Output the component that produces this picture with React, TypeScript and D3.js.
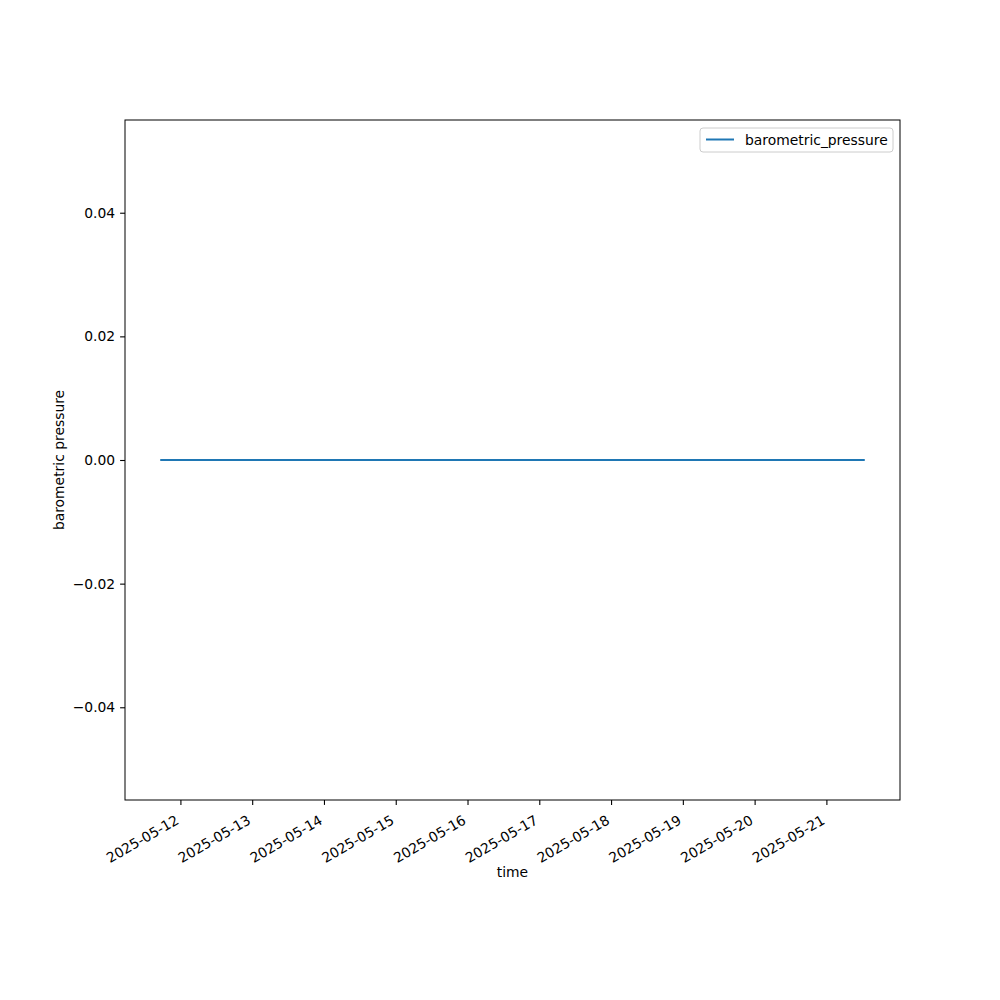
import React, { useRef, useEffect } from 'react';
import * as d3 from 'd3';

// readings (all zero in the source)
const times: string[] = [
    '2025-05-11T17:15:00',
    '2025-05-12T17:15:00',
    '2025-05-13T17:15:00',
    '2025-05-14T17:15:00',
    '2025-05-15T17:15:00',
    '2025-05-16T17:15:00',
    '2025-05-17T17:15:00',
    '2025-05-18T17:15:00',
    '2025-05-19T17:15:00',
    '2025-05-20T17:15:00',
    '2025-05-21T12:50:00',
];
const pressure: number[] = [0, 0, 0, 0, 0, 0, 0, 0, 0, 0, 0];
const yTicks: number[] = [-0.04, -0.02, 0, 0.02, 0.04];
const xTickDays: string[] = [
    '2025-05-12', '2025-05-13', '2025-05-14', '2025-05-15', '2025-05-16',
    '2025-05-17', '2025-05-18', '2025-05-19', '2025-05-20', '2025-05-21',
];
const seriesName = 'barometric_pressure';

const FONT = 'DejaVu Sans, sans-serif';
const FS = 13.89;

const drawChart = (svgEl: SVGSVGElement) => {
    const svg = d3.select(svgEl);
    svg.selectAll('*').remove();

    const margin = { top: 120, right: 100, bottom: 200, left: 125 };
    const width = 1000 - margin.left - margin.right;
    const height = 1000 - margin.top - margin.bottom;

    const data = times.map((t, i) => ({ t: new Date(t), v: pressure[i] }));

    // matplotlib-like 5% margins
    const [t0, t1] = d3.extent(data, d => d.t.getTime()) as [number, number];
    const pad = (t1 - t0) * 0.05;
    const x = d3.scaleTime()
        .domain([new Date(t0 - pad), new Date(t1 + pad)])
        .range([0, width]);

    const y = d3.scaleLinear()
        .domain([-0.055, 0.055])
        .range([height, 0]);

    const g = svg.append('g')
        .attr('transform', `translate(${margin.left},${margin.top})`);

    // line
    const line = d3.line<{ t: Date; v: number }>()
        .x(d => x(d.t))
        .y(d => y(d.v));
    g.append('path')
        .datum(data)
        .attr('fill', 'none')
        .attr('stroke', '#1f77b4')
        .attr('stroke-width', 2)
        .attr('d', line);

    // y axis
    const fmtY = (d: number) => (d < 0 ? '\u2212' : '') + Math.abs(d).toFixed(2);
    const yAxis = g.append('g')
        .call(d3.axisLeft(y).tickValues(yTicks).tickSize(4.9).tickPadding(4.9).tickFormat(d => fmtY(+d)));
    yAxis.select('.domain').remove();
    yAxis.selectAll('text').attr('font-family', FONT).attr('font-size', FS).attr('fill', '#000');
    yAxis.selectAll('.tick line').attr('stroke', '#000').attr('stroke-width', 1.1);

    // x axis
    const xAxis = g.append('g')
        .attr('transform', `translate(0,${height})`)
        .call(d3.axisBottom(x)
            .tickValues(xTickDays.map(d => new Date(d + 'T00:00:00')))
            .tickSize(4.9)
            .tickFormat(d => d3.timeFormat('%Y-%m-%d')(d as Date)));
    xAxis.select('.domain').remove();
    xAxis.selectAll('.tick line').attr('stroke', '#000').attr('stroke-width', 1.1);
    xAxis.selectAll('text')
        .attr('font-family', FONT)
        .attr('font-size', FS)
        .attr('fill', '#000')
        .attr('text-anchor', 'end')
        .attr('dy', null)
        .attr('y', 0)
        .attr('transform', 'translate(-1,23) rotate(-30)');

    // frame
    g.append('rect')
        .attr('width', width)
        .attr('height', height)
        .attr('fill', 'none')
        .attr('stroke', '#000')
        .attr('stroke-width', 1);

    // axis labels
    svg.append('text')
        .attr('x', margin.left + width / 2)
        .attr('y', 877)
        .attr('text-anchor', 'middle')
        .attr('font-family', FONT)
        .attr('font-size', FS)
        .text('time');
    svg.append('text')
        .attr('transform', `translate(64,${margin.top + height / 2}) rotate(-90)`)
        .attr('text-anchor', 'middle')
        .attr('font-family', FONT)
        .attr('font-size', FS)
        .text('barometric pressure');

    // legend
    const lg = g.append('g').attr('transform', `translate(${width - 200},8)`);
    lg.append('rect')
        .attr('x', 0).attr('y', 0)
        .attr('width', 193).attr('height', 24)
        .attr('rx', 3)
        .attr('fill', '#fff')
        .attr('stroke', '#ccc');
    lg.append('line')
        .attr('x1', 6).attr('x2', 34)
        .attr('y1', 11.5).attr('y2', 11.5)
        .attr('stroke', '#1f77b4')
        .attr('stroke-width', 2);
    lg.append('text')
        .attr('x', 45).attr('y', 16.5)
        .attr('font-family', FONT)
        .attr('font-size', FS)
        .text(seriesName);
};

const App: React.FC = () => {
    const ref = useRef<SVGSVGElement>(null);

    useEffect(() => {
        if (ref.current) drawChart(ref.current);
    }, []);

    return (
        <svg
            ref={ref}
            width={1000}
            height={1000}
            style={{ position: 'absolute', left: 0, top: 0, background: '#fff' }}
        />
    );
};

export default App;
